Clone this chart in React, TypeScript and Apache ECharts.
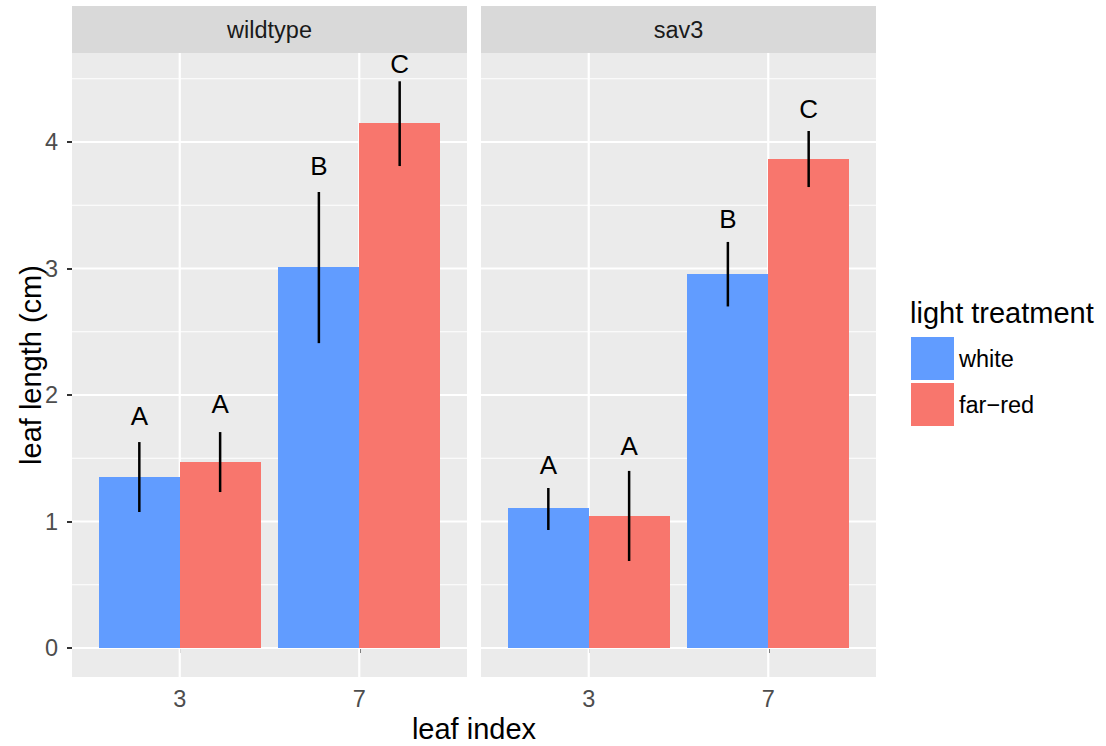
import React, { useEffect, useRef } from "react";
import * as echarts from "echarts";

const panels = ["wildtype", "sav3"];
const leafIndex = ["3", "7"];
const leafPos = [1, 2];
const treatments = ["white", "far\u2212red"];
const treatmentColors = ["#619CFF", "#F8766D"];

// wildtype panel
const wildtypeWhiteMean = [1.352, 3.01];
const wildtypeWhiteLow = [1.075, 2.41];
const wildtypeWhiteHigh = [1.628, 3.605];
const wildtypeWhiteLetters = ["A", "B"];
const wildtypeWhiteLetterY = [1.834, 3.81];

const wildtypeFarRedMean = [1.47, 4.15];
const wildtypeFarRedLow = [1.233, 3.81];
const wildtypeFarRedHigh = [1.707, 4.48];
const wildtypeFarRedLetters = ["A", "C"];
const wildtypeFarRedLetterY = [1.929, 4.62];

// sav3 panel
const sav3WhiteMean = [1.107, 2.957];
const sav3WhiteLow = [0.933, 2.7];
const sav3WhiteHigh = [1.265, 3.21];
const sav3WhiteLetters = ["A", "B"];
const sav3WhiteLetterY = [1.447, 3.39];

const sav3FarRedMean = [1.043, 3.866];
const sav3FarRedLow = [0.688, 3.644];
const sav3FarRedHigh = [1.4, 4.087];
const sav3FarRedLetters = ["A", "C"];
const sav3FarRedLetterY = [1.597, 4.26];

const yTicks = [0, 1, 2, 3, 4];
const yMinorTicks = [0.5, 1.5, 2.5, 3.5, 4.5];
const yMin = -0.2292;
const yMax = 4.7036;
const xMin = 0.4;
const xMax = 2.6;

const FONT = '"Liberation Sans", Arial, Helvetica, sans-serif';

const groups = [
  [
    { mean: wildtypeWhiteMean, low: wildtypeWhiteLow, high: wildtypeWhiteHigh, letters: wildtypeWhiteLetters, letterY: wildtypeWhiteLetterY },
    { mean: wildtypeFarRedMean, low: wildtypeFarRedLow, high: wildtypeFarRedHigh, letters: wildtypeFarRedLetters, letterY: wildtypeFarRedLetterY },
  ],
  [
    { mean: sav3WhiteMean, low: sav3WhiteLow, high: sav3WhiteHigh, letters: sav3WhiteLetters, letterY: sav3WhiteLetterY },
    { mean: sav3FarRedMean, low: sav3FarRedLow, high: sav3FarRedHigh, letters: sav3FarRedLetters, letterY: sav3FarRedLetterY },
  ],
];

const gridLefts = [72, 481];
const gridTop = 53;
const gridWidth = 395;
const gridHeight = 624;

function buildOption() {
  const series: any[] = [];
  panels.forEach((_, p) => {
    // grid lines
    series.push({
      type: "custom",
      xAxisIndex: p,
      yAxisIndex: p,
      z: 1,
      silent: true,
      data: [
        ...yTicks.map((v) => [1, v, 0]),
        ...yMinorTicks.map((v) => [1, v, 1]),
        ...leafPos.map((v) => [v, 0, 2]),
      ],
      renderItem: (params: any, api: any) => {
        const kind = api.value(2);
        let a, b;
        if (kind === 2) {
          a = api.coord([api.value(0), yMin]);
          b = api.coord([api.value(0), yMax]);
        } else {
          a = api.coord([xMin, api.value(1)]);
          b = api.coord([xMax, api.value(1)]);
        }
        return {
          type: "line",
          shape: { x1: a[0], y1: a[1], x2: b[0], y2: b[1] },
          style: { stroke: "#FFFFFF", lineWidth: kind === 1 ? 1.1 : 2.2 },
        };
      },
    });
    groups[p].forEach((g, t) => {
      series.push({
        type: "custom",
        name: treatments[t],
        xAxisIndex: p,
        yAxisIndex: p,
        z: 3,
        itemStyle: { color: treatmentColors[t] },
        encode: { x: 0, y: 1 },
        data: leafPos.map((x, i) => [x, g.mean[i], g.low[i], g.high[i], g.letterY[i]]),
        renderItem: (params: any, api: any) => {
          const x = api.value(0) as number;
          const m = api.value(1) as number;
          const lo = api.value(2) as number;
          const hi = api.value(3) as number;
          const ly = api.value(4) as number;
          const left = t === 0 ? x - 0.45 : x;
          const right = left + 0.45;
          const c = (left + right) / 2;
          const tl = api.coord([left, m]);
          const br = api.coord([right, 0]);
          const pl = api.coord([c, lo]);
          const ph = api.coord([c, hi]);
          const pt = api.coord([c, ly]);
          const rx0 = Math.round(tl[0]);
          const rx1 = Math.round(br[0]);
          const ry0 = Math.round(tl[1]);
          const ry1 = Math.round(br[1]);
          return {
            type: "group",
            children: [
              {
                type: "rect",
                shape: { x: rx0, y: ry0, width: rx1 - rx0, height: ry1 - ry0 },
                style: { fill: treatmentColors[t] },
              },
              {
                type: "line",
                shape: { x1: pl[0], y1: pl[1], x2: ph[0], y2: ph[1] },
                style: { stroke: "#000000", lineWidth: 2.5 },
              },
              {
                type: "text",
                x: pt[0],
                y: pt[1],
                style: {
                  text: g.letters[params.dataIndex],
                  fill: "#000000",
                  font: `26px ${FONT}`,
                  align: "center",
                  verticalAlign: "middle",
                },
              },
            ],
          };
        },
      });
    });
  });

  const graphic: any[] = [];
  panels.forEach((name, p) => {
    graphic.push({
      type: "rect",
      left: gridLefts[p],
      top: 6,
      shape: { width: gridWidth, height: 47 },
      style: { fill: "#D9D9D9" },
      z: 0,
    });
    graphic.push({
      type: "text",
      x: gridLefts[p] + gridWidth / 2,
      y: 30,
      style: { text: name, font: `23.5px ${FONT}`, fill: "#1A1A1A", align: "center", verticalAlign: "middle" },
    });
  });
  graphic.push({
    type: "text",
    x: 31,
    y: gridTop + gridHeight / 2,
    rotation: Math.PI / 2,
    style: { text: "leaf length (cm)", font: `29px ${FONT}`, fill: "#000000", align: "center", verticalAlign: "middle" },
  });
  graphic.push({
    type: "text",
    x: (gridLefts[0] + gridLefts[1] + gridWidth) / 2,
    y: 729,
    style: { text: "leaf index", font: `29px ${FONT}`, fill: "#000000", align: "center", verticalAlign: "middle" },
  });
  graphic.push({
    type: "text",
    x: 910,
    y: 313,
    style: { text: "light treatment", font: `29px ${FONT}`, fill: "#000000", align: "left", verticalAlign: "middle" },
  });

  return {
    animation: false,
    backgroundColor: "#FFFFFF",
    textStyle: { fontFamily: FONT },
    grid: panels.map((_, p) => ({
      left: gridLefts[p],
      top: gridTop,
      width: gridWidth,
      height: gridHeight,
      show: true,
      backgroundColor: "#EBEBEB",
      borderWidth: 0,
    })),
    xAxis: panels.map((_, p) => ({
      type: "value",
      gridIndex: p,
      min: xMin,
      max: xMax,
      axisLine: { show: false },
      splitLine: { show: false },
      axisTick: { show: true, customValues: leafPos, length: 5, lineStyle: { color: "#333333", width: 2 } },
      axisLabel: {
        show: true,
        customValues: leafPos,
        formatter: (v: number) => leafIndex[leafPos.indexOf(Math.round(v))] ?? "",
        fontSize: 23.5,
        fontFamily: FONT,
        color: "#4D4D4D",
        margin: 10,
      },
    })),
    yAxis: panels.map((_, p) => ({
      type: "value",
      gridIndex: p,
      min: yMin,
      max: yMax,
      axisLine: { show: false },
      splitLine: { show: false },
      axisTick: { show: p === 0, customValues: yTicks, length: 5, lineStyle: { color: "#333333", width: 2 } },
      axisLabel: {
        show: p === 0,
        customValues: yTicks,
        formatter: (v: number) => String(Math.round(v)),
        fontSize: 23.5,
        fontFamily: FONT,
        color: "#4D4D4D",
        margin: 14,
      },
    })),
    legend: {
      data: treatments.map((name) => ({ name, icon: "rect" })),
      orient: "vertical",
      left: 911,
      top: 337,
      padding: 0,
      itemWidth: 43,
      itemHeight: 43,
      itemGap: 3,
      selectedMode: false,
      textStyle: { fontSize: 23.5, color: "#000000", fontFamily: FONT },
    },
    graphic,
    series,
  };
}

export default function App() {
  const ref = useRef<HTMLDivElement>(null);
  useEffect(() => {
    if (!ref.current) return;
    const chart = echarts.init(ref.current, undefined, { renderer: "svg" });
    chart.setOption(buildOption() as any);
    return () => chart.dispose();
  }, []);
  return (
    <div
      ref={ref}
      style={{ position: "absolute", left: 0, top: 0, width: 1106, height: 746 }}
    />
  );
}
